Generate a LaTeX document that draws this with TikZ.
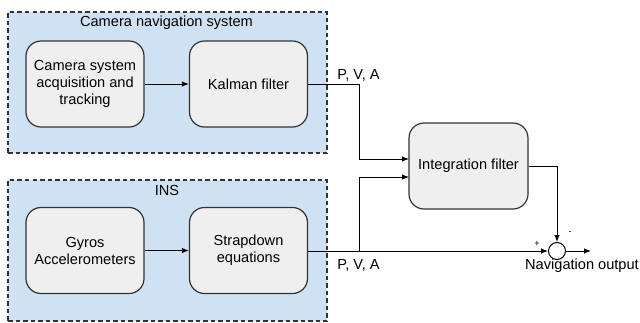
\documentclass[tikz,border=0pt]{standalone}
\usepackage{fontspec}
\setmainfont{Liberation Sans}
\usetikzlibrary{arrows.meta}
\definecolor{contfill}{HTML}{CFE2F3}
\definecolor{boxfill}{HTML}{EFEFEF}
\definecolor{edge}{HTML}{333333}
\begin{document}
\begin{tikzpicture}[x=1pt,y=-1pt,
  container/.style={draw=edge, fill=contfill, line width=1.1pt, dash pattern=on 4.5pt off 3pt, minimum width=319pt, minimum height=141pt, inner sep=0pt},
  blockbox/.style={draw=edge, fill=boxfill, line width=1.2pt, rounded corners=15pt, minimum width=118pt, minimum height=86pt, align=center, inner sep=2pt, font=\fontsize{14.6}{17}\selectfont},
  lbl/.style={font=\fontsize{14.6}{17}\selectfont, inner sep=0pt},
  conn/.style={draw=black, line width=1pt},
  arr/.style={conn, -{Latex[length=7pt,width=5.5pt]}},
]
\useasboundingbox (0,0) rectangle (640,322);
% containers
\node[container] (cam) at (167.5,82.5) {};
\node[container] (ins) at (167.5,250.5) {};
\node[lbl] (camt) at (166.5,23) {Camera navigation system};
\node[lbl] (inst) at (167,190) {INS};
% blocks
\node[blockbox] (acq) at (85,84) {Camera system\\acquisition and\\tracking};
\node[blockbox] (kal) at (248.5,84) {Kalman filter};
\node[blockbox] (gyr) at (85,250.5) {Gyros\\Accelerometers};
\node[blockbox] (str) at (248.5,250.5) {Strapdown\\equations};
\node[blockbox, minimum width=119pt] (int) at (468.5,166) {Integration filter};
\node[draw=black, line width=1pt, circle, minimum size=17pt, inner sep=0pt, fill=white] (sum) at (557,251) {};
% coordinates
\coordinate (j1) at (359,84);
\coordinate (j2) at (359,251);
\coordinate (in1) at (409,159);
\coordinate (in2) at (409,177);
\coordinate (out) at (591,251);
% connectors
\draw[arr] (acq.east) -- (kal.west);
\draw[arr] (gyr.east) -- (str.west);
\draw[arr] (kal.east) -- (j1) |- (in1);
\draw[arr] (j2) |- (in2);
\draw[arr] (str.east |- sum.west) -- (sum.west);
\draw[arr] (int.east) -| (sum.north);
\draw[arr] (sum.east) -- (out);
% labels
\node[lbl] (pva1) at (358.5,75) {P, V, A};
\node[lbl] (pva2) at (358.5,265.5) {P, V, A};
\node[font=\fontsize{9}{10}\selectfont, inner sep=0pt] (plus) at (537,243.5) {+};
\node[font=\fontsize{9}{10}\selectfont, inner sep=0pt] (minus) at (570,233.5) {-};
\node[lbl] (navout) at (582,266) {Navigation output};
\end{tikzpicture}
\end{document}
